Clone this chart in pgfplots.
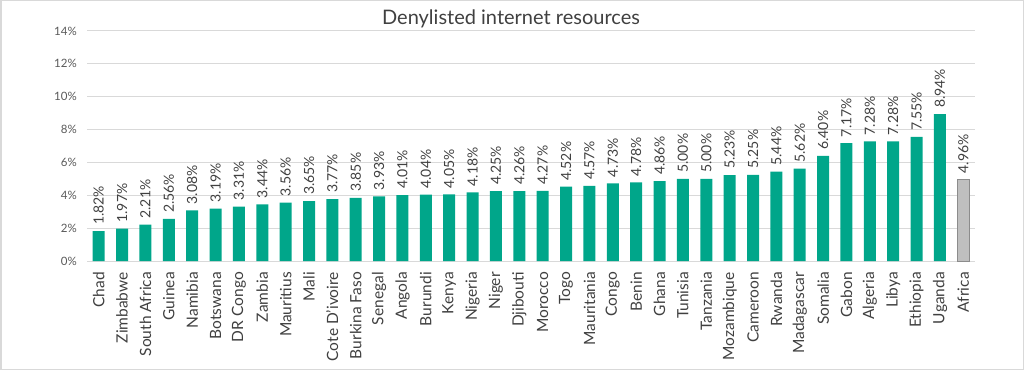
\documentclass[border=0pt]{standalone}
\usepackage{pgfplots}
\pgfplotsset{compat=1.18}
\usepackage{fontspec}
\setmainfont{Lato}
\definecolor{barteal}{HTML}{00A68A}
\definecolor{bargray}{HTML}{BFBFBF}
\definecolor{baredge}{HTML}{8C8C8C}
\definecolor{gridgray}{HTML}{D9D9D9}
\definecolor{ticktext}{HTML}{595959}
\definecolor{labeltext}{HTML}{404040}
\begin{document}
\begin{tikzpicture}
\useasboundingbox (0pt,0pt) rectangle (1024pt,370pt);
\draw[gridgray, line width=1.5pt] (0.75pt,0.75pt) rectangle (1023.25pt,369.25pt);
\node[font=\fontsize{20}{23}\selectfont, text=labeltext] at (511pt,351pt) {Denylisted internet resources};
\begin{axis}[
  at={(87pt,109pt)}, anchor=south west,
  scale only axis, width=888pt, height=230pt,
  xmin=-0.5, xmax=37.5, ymin=0, ymax=14,
  clip=false,
  ybar, bar width=12pt, bar shift=0pt,
  axis line style={draw=none},
  major tick length=0pt,
  ymajorgrids, grid style={draw=gridgray, line width=1pt},
  ytick={0,2,4,6,8,10,12,14},
  yticklabels={0\%,2\%,4\%,6\%,8\%,10\%,12\%,14\%},
  yticklabel style={font=\fontsize{11.5}{13}\selectfont, text=ticktext, inner sep=0pt, xshift=-10pt},
  xtick={0,...,37},
  xticklabels={Chad,Zimbabwe,South Africa,Guinea,Namibia,Botswana,DR Congo,Zambia,Mauritius,Mali,Cote D'ivoire,Burkina Faso,Senegal,Angola,Burundi,Kenya,Nigeria,Niger,Djibouti,Morocco,Togo,Mauritania,Congo,Benin,Ghana,Tunisia,Tanzania,Mozambique,Cameroon,Rwanda,Madagascar,Somalia,Gabon,Algeria,Libya,Ethiopia,Uganda,Africa},
  xticklabel style={rotate=90, anchor=east, inner sep=0pt, font=\fontsize{15.5}{17}\selectfont, text=labeltext},
  xticklabel shift=11pt,
  nodes near coords,
  point meta=explicit symbolic,
  every node near coord/.append style={rotate=90, anchor=west, inner xsep=6pt, inner ysep=0pt, font=\fontsize{14}{16}\selectfont, text=labeltext},
]
\addplot[fill=barteal, draw=none] coordinates {
(0,1.82) [1.82\%]
(1,1.97) [1.97\%]
(2,2.21) [2.21\%]
(3,2.56) [2.56\%]
(4,3.08) [3.08\%]
(5,3.19) [3.19\%]
(6,3.31) [3.31\%]
(7,3.44) [3.44\%]
(8,3.56) [3.56\%]
(9,3.65) [3.65\%]
(10,3.77) [3.77\%]
(11,3.85) [3.85\%]
(12,3.93) [3.93\%]
(13,4.01) [4.01\%]
(14,4.04) [4.04\%]
(15,4.05) [4.05\%]
(16,4.18) [4.18\%]
(17,4.25) [4.25\%]
(18,4.26) [4.26\%]
(19,4.27) [4.27\%]
(20,4.52) [4.52\%]
(21,4.57) [4.57\%]
(22,4.73) [4.73\%]
(23,4.78) [4.78\%]
(24,4.86) [4.86\%]
(25,5.00) [5.00\%]
(26,5.00) [5.00\%]
(27,5.23) [5.23\%]
(28,5.25) [5.25\%]
(29,5.44) [5.44\%]
(30,5.62) [5.62\%]
(31,6.40) [6.40\%]
(32,7.17) [7.17\%]
(33,7.28) [7.28\%]
(34,7.28) [7.28\%]
(35,7.55) [7.55\%]
(36,8.94) [8.94\%]
};
\addplot[fill=bargray, draw=baredge, line width=0.6pt] coordinates {
(37,4.96) [4.96\%]
};
\end{axis}
\end{tikzpicture}
\end{document}
